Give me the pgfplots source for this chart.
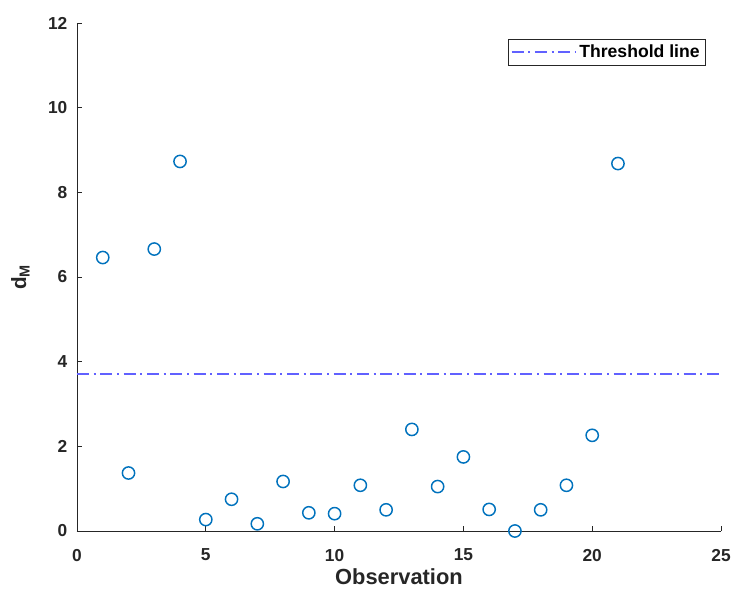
\documentclass[border=0pt]{standalone}
\usepackage{fontspec}
\setmainfont{Liberation Sans}
\usepackage{pgfplots}
\pgfplotsset{compat=1.18}

\definecolor{mblue}{rgb}{0,0.447,0.741}
\definecolor{thr}{rgb}{0.38,0.38,1}
\definecolor{axgray}{rgb}{0.15,0.15,0.15}

% data: Mahalanobis distance per observation
\pgfplotstableread{
obs dM
1  6.46
2  1.37
3  6.66
4  8.73
5  0.27
6  0.75
7  0.17
8  1.17
9  0.43
10 0.41
11 1.08
12 0.50
13 2.40
14 1.05
15 1.75
16 0.51
17 0.00
18 0.50
19 1.08
20 2.26
21 8.68
}\dmdata

\pgfplotstableread{
x thr
0  3.72
25 3.72
}\thrdata

\begin{document}
\begin{tikzpicture}[x=1pt,y=1pt]
\def\px{0.75}
\begin{axis}[
    at={(0,0)}, anchor=origin,
    scale only axis,
    width=483pt, height=381pt,
    xmin=0, xmax=25, ymin=0, ymax=12,
    xtick={0,5,...,25}, ytick={0,2,...,12},
    axis lines=left,
    axis line style={-, axgray, line width=0.6pt},
    tick align=inside,
    major tick length=4pt,
    tick style={axgray, line width=0.6pt},
    /pgf/number format/assume math mode=true,
    ticklabel style={font=\fontsize{13}{15}\selectfont\bfseries, text=axgray},
    xticklabel style={yshift=-10pt},
    yticklabel style={xshift=-3.75pt},
    xlabel={\fontsize{16.4}{19}\selectfont\bfseries Observation},
    ylabel={\fontsize{15.5}{18}\selectfont\bfseries d\textsubscript{M}},
    label style={text=axgray},
    xlabel style={yshift=-1pt, inner sep=1pt},
    ylabel style={yshift=7pt},
    legend style={at={(axis description cs:1,1)}, anchor=north east,
        xshift=-11.8pt, yshift=-12.2pt, draw=axgray, line width=0.5pt,
        font=\fontsize{13.2}{15}\selectfont\bfseries, text=black,
        inner sep=2pt, row sep=0pt},
    legend cell align=left,
    legend image code/.code={\draw[#1] (0pt,0pt) -- (48pt,0pt);},
    clip=false,
]
\addplot[only marks, mark=o, mark size=4.6pt,
    mark options={mblue, line width=1.1pt}, forget plot]
    table[x=obs, y=dM] {\dmdata};
\addplot[draw=thr, line width=1.5pt, mark=none,
    dash pattern=on 9pt off 3.5pt on 1.5pt off 3.5pt]
    table[x=x, y=thr] {\thrdata};
\addlegendentry{Threshold line}
\end{axis}
\pgfresetboundingbox
\useasboundingbox (-77*\px,-59*\px) rectangle (657*\px,531*\px);
\end{tikzpicture}
\end{document}
